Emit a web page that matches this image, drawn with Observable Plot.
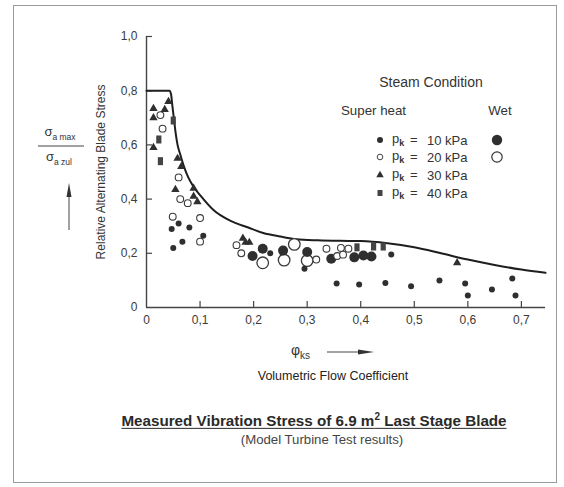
<!DOCTYPE html>
<html><head><meta charset="utf-8">
<script src="https://cdn.jsdelivr.net/npm/d3@7"></script>
<script src="https://cdn.jsdelivr.net/npm/@observablehq/plot@0.6"></script>
<style>
body{margin:0;background:#fff;}
#wrap{position:relative;width:564px;height:487px;font-family:"Liberation Sans",Arial,sans-serif;color:#2e2e2e;overflow:hidden;background:#fff}
.t{position:absolute;white-space:nowrap;line-height:1}
#frame{position:absolute;left:13px;top:5px;width:542px;height:476px;border:1px solid #9a9a9a;pointer-events:none}
</style></head><body><div id="wrap"><div id="frame"></div></div>
<script>
// ---------- data ----------
const xTicks = [0, 0.1, 0.2, 0.3, 0.4, 0.5, 0.6, 0.7];
const xTickLabels = ["0", "0,1", "0,2", "0,3", "0,4", "0,5", "0,6", "0,7"];
const yTicks = [0, 0.2, 0.4, 0.6, 0.8, 1.0];
const yTickLabels = ["0", "0,2", "0,4", "0,6", "0,8", "1,0"];

// limit (envelope) curve
const envelope = [[0,0.8],[0.043,0.8],[0.046,0.785],[0.048,0.75],[0.051,0.70],[0.054,0.65],[0.058,0.60],[0.063,0.565],[0.07,0.52],[0.078,0.48],[0.088,0.445],[0.1,0.415],[0.125,0.36],[0.157,0.32],[0.19,0.295],[0.218,0.275],[0.25,0.262],[0.28,0.252],[0.32,0.248],[0.36,0.246],[0.4,0.245],[0.45,0.237],[0.5,0.222],[0.55,0.2],[0.6,0.177],[0.65,0.157],[0.7,0.14],[0.745,0.128]];

// superheated steam
const superheat10 = [[0.047,0.29],[0.06,0.31],[0.08,0.295],[0.106,0.265],[0.067,0.243],[0.05,0.22],[0.231,0.20],[0.295,0.143],[0.355,0.089],[0.397,0.085],[0.446,0.09],[0.457,0.196],[0.494,0.078],[0.547,0.10],[0.595,0.089],[0.60,0.044],[0.645,0.066],[0.683,0.107],[0.689,0.044]];
const superheat20 = [[0.026,0.71],[0.03,0.66],[0.06,0.48],[0.063,0.40],[0.077,0.385],[0.049,0.335],[0.10,0.33],[0.10,0.243],[0.168,0.23],[0.177,0.20],[0.317,0.177],[0.336,0.217],[0.356,0.19],[0.363,0.22],[0.367,0.195],[0.377,0.217]];
const superheat30 = [[0.013,0.734],[0.013,0.70],[0.034,0.73],[0.041,0.76],[0.013,0.59],[0.058,0.55],[0.065,0.52],[0.054,0.435],[0.088,0.44],[0.088,0.41],[0.095,0.39],[0.18,0.255],[0.185,0.24],[0.192,0.24],[0.58,0.165]];
const superheat40 = [[0.05,0.69],[0.023,0.62],[0.026,0.54],[0.393,0.222],[0.424,0.225],[0.442,0.225]];
// wet steam
const wet10 = [[0.198,0.19],[0.217,0.217],[0.255,0.21],[0.30,0.205],[0.345,0.18],[0.388,0.185],[0.405,0.192],[0.42,0.188]];
const wet20 = [[0.217,0.165],[0.257,0.175],[0.276,0.233],[0.30,0.173]];

const legendRows = ["10 kPa", "20 kPa", "30 kPa", "40 kPa"];

// ---------- chart ----------
const ink = "#2f2f2f";
const rectSymbol = {draw(ctx){ ctx.moveTo(-2.6,-4); ctx.lineTo(2.6,-4); ctx.lineTo(2.6,4); ctx.lineTo(-2.6,4); ctx.closePath(); }};
const fmt = (ticks, labels) => d => labels[ticks.findIndex(t => Math.abs(t - d) < 1e-9)];

const chart = Plot.plot({
  width: 564, height: 340,
  marginLeft: 146, marginRight: 19, marginTop: 36, marginBottom: 33,
  x: {domain: [0, 0.745]},
  y: {domain: [0, 1]},
  style: {background: "transparent", fontFamily: "'Liberation Sans', Arial, sans-serif", fontSize: "12px", color: "#3a3a3a"},
  marks: [
    Plot.axisX({ticks: xTicks, tickSize: 0, tickPadding: 8, tickFormat: fmt(xTicks, xTickLabels), label: null, fontSize: 12}),
    Plot.axisY({ticks: yTicks, tickSize: 0, tickPadding: 9, tickFormat: fmt(yTicks, yTickLabels), label: null, fontSize: 12}),
    Plot.ruleY([0], {x1: 0, x2: 0.745, stroke: "#444", strokeWidth: 1.4}),
    Plot.ruleX([0], {y1: 0, y2: 1, stroke: "#444", strokeWidth: 1.4}),
    Plot.ruleX(xTicks.slice(1), {y1: 0, y2: 6 / 271, stroke: "#444", strokeWidth: 1.2}),
    Plot.ruleY(yTicks.slice(1), {x1: 0, x2: 6 / 536, stroke: "#444", strokeWidth: 1.2}),
    Plot.line(envelope, {x: d => d[0], y: d => d[1], stroke: "#1e1e1e", strokeWidth: 2, curve: "monotone-x"}),
    Plot.dot(wet20, {x: d => d[0], y: d => d[1], r: 5.8, stroke: "#3a3a3a", strokeWidth: 1.3, fill: "white"}),
    Plot.dot(wet10, {x: d => d[0], y: d => d[1], r: 5, fill: ink, stroke: "none"}),
    Plot.dot(superheat20, {x: d => d[0], y: d => d[1], r: 3.4, stroke: "#3a3a3a", strokeWidth: 1.1, fill: "white"}),
    Plot.dot(superheat10, {x: d => d[0], y: d => d[1], r: 3, fill: ink, stroke: "none"}),
    Plot.dot(superheat30, {x: d => d[0], y: d => d[1], r: 3.1, symbol: "triangle", fill: ink, stroke: "none"}),
    Plot.dot(superheat40, {x: d => d[0], y: d => d[1], r: 3, symbol: rectSymbol, fill: "#444", stroke: "none"}),
    Plot.text(["Relative Alternating Blade Stress"], {frameAnchor: "left", textAnchor: "middle", rotate: -90, dx: -45, dy: 0, fontSize: 12, fill: "#333"})
  ]
});
chart.style.position = "absolute";
chart.style.left = "0px";
chart.style.top = "0px";
const wrap = document.getElementById("wrap");
wrap.insertBefore(chart, wrap.firstChild);

// ---------- text helpers ----------
function txt(html, x, y, {size = 12, anchor = "start", weight = "normal", color = "#333", extra = ""} = {}) {
  const el = document.createElement("div");
  el.className = "t";
  el.innerHTML = html;
  const tx = anchor === "middle" ? "-50%" : anchor === "end" ? "-100%" : "0";
  el.style.cssText = `left:${x}px;top:${y}px;font-size:${size}px;font-weight:${weight};color:${color};transform:translate(${tx},-50%);${extra}`;
  wrap.appendChild(el);
  return el;
}

// legend
txt("Steam Condition", 431, 82, {anchor: "middle", size: 14, color: "#333"});
txt("Super heat", 341, 111, {size: 13.3});
txt("Wet", 500, 111, {anchor: "middle", size: 13.3});
const rowsY = [140, 157, 175, 193];
legendRows.forEach((lab, i) => {
  txt('p<sub style="font-size:9px;font-weight:bold;vertical-align:-3px">k</sub>', 392, rowsY[i], {size: 13});
  txt("=", 410, rowsY[i] - 1, {size: 13});
  txt(lab, 427, rowsY[i], {size: 13});
});
const lsvg = d3.select(wrap).append("svg")
  .attr("width", 564).attr("height", 487)
  .style("position", "absolute").style("left", 0).style("top", 0).style("pointer-events", "none");
const sym = d3.symbol();
lsvg.append("circle").attr("cx", 380).attr("cy", rowsY[0]).attr("r", 3).attr("fill", ink);
lsvg.append("circle").attr("cx", 380).attr("cy", rowsY[1]).attr("r", 2.8).attr("fill", "white").attr("stroke", "#444").attr("stroke-width", 1);
lsvg.append("path").attr("transform", `translate(380,${rowsY[2]})`).attr("d", sym.type(d3.symbolTriangle).size(24)()).attr("fill", ink);
lsvg.append("rect").attr("x", 377.5).attr("y", rowsY[3] - 3).attr("width", 5).attr("height", 6).attr("fill", "#444");
lsvg.append("circle").attr("cx", 497).attr("cy", rowsY[0]).attr("r", 5.2).attr("fill", ink);
lsvg.append("circle").attr("cx", 497).attr("cy", rowsY[1]).attr("r", 5.2).attr("fill", "white").attr("stroke", "#333").attr("stroke-width", 1.2);

// left fraction + arrow
txt('σ<sub style="font-size:8.5px">a max</sub>', 60, 133, {anchor: "middle", size: 13});
lsvg.append("line").attr("x1", 38).attr("x2", 84).attr("y1", 146).attr("y2", 146).attr("stroke", "#444").attr("stroke-width", 1);
txt('σ<sub style="font-size:8.5px">a zul</sub>', 59, 158, {anchor: "middle", size: 13});
lsvg.append("line").attr("x1", 69).attr("x2", 69).attr("y1", 230).attr("y2", 195).attr("stroke", "#444").attr("stroke-width", 1);
lsvg.append("path").attr("d", "M69,183 L66.5,197 L71.5,197 Z").attr("fill", "#333");

// x axis label
txt('φ<sub style="font-size:10px">ks</sub>', 291, 352, {size: 14, color: "#333"});
lsvg.append("line").attr("x1", 327).attr("x2", 362).attr("y1", 352).attr("y2", 352).attr("stroke", "#444").attr("stroke-width", 1);
lsvg.append("path").attr("d", "M374,352 L358,349.5 L358,354.5 Z").attr("fill", "#333");
txt("Volumetric Flow Coefficient", 333, 376, {anchor: "middle", size: 12.5, color: "#222"});

// title
txt('Measured Vibration Stress of 6.9 m<sup style="font-size:10px">2</sup> Last Stage Blade', 314, 420, {anchor: "middle", size: 15.2, weight: "bold", color: "#2a2a2a", extra: "text-decoration:underline;text-underline-offset:2px;"});
txt("(Model Turbine Test results)", 322, 440, {anchor: "middle", size: 13.2, color: "#444"});
</script>
</body></html>
